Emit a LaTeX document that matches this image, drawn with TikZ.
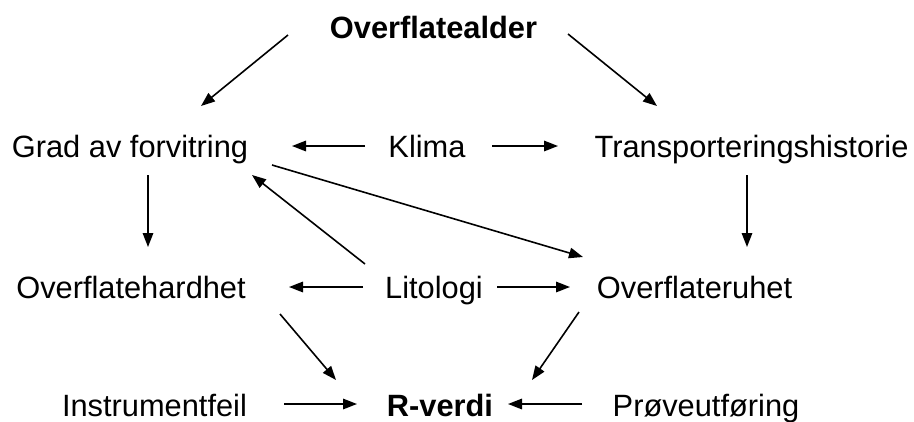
\documentclass[tikz,border=0pt]{standalone}
\usepackage{fontspec}
\setmainfont{Liberation Sans}
\usetikzlibrary{arrows.meta}
\begin{document}
\begin{tikzpicture}[x=1pt,y=-1pt,
  lbl/.style={inner sep=0pt,anchor=base,font=\fontsize{30.8}{36}\selectfont},
  blbl/.style={lbl,font=\fontsize{30.8}{36}\selectfont\bfseries},
  arr/.style={line width=1.6pt,-{Triangle[length=14pt,width=10.5pt]}}]
\useasboundingbox[fill=white] (0,0) rectangle (914,421);
\node[blbl] (ofa) at (433.5,38) {Overflatealder};
\node[lbl] (grad) at (130,157) {Grad av forvitring};
\node[lbl] (klima) at (427,157) {Klima};
\node[lbl] (trans) at (751.5,157) {Transporteringshistorie};
\node[lbl] (ohard) at (131,298) {Overflatehardhet};
\node[lbl] (lito) at (434,298) {Litologi};
\node[lbl] (oruhet) at (694.5,298) {Overflateruhet};
\node[lbl] (instr) at (154.5,416) {Instrumentfeil};
\node[blbl] (rverdi) at (440,416) {R-verdi};
\node[lbl] (prove) at (706,416) {Prøveutføring};
% connectors
\draw[arr] ([shift={(-145.5,-3)}]ofa.base) -- ([shift={(71,-51)}]grad.base);
\draw[arr] ([shift={(134.5,-4)}]ofa.base) -- ([shift={(-94.5,-51)}]trans.base);
\draw[arr] ([shift={(-62,-11)}]klima.base) -- ([shift={(162,-11)}]grad.base);
\draw[arr] ([shift={(65,-11)}]klima.base) -- ([shift={(-193.5,-11)}]trans.base);
\draw[arr] ([shift={(18,18)}]grad.base) -- ([shift={(17,-51)}]ohard.base);
\draw[arr] ([shift={(-4.5,18)}]trans.base) -- ([shift={(52.5,-51)}]oruhet.base);
\draw[arr] ([shift={(-69,-34)}]lito.base) -- ([shift={(122,18)}]grad.base);
\draw[arr] ([shift={(142,8)}]grad.base) -- ([shift={(-111.5,-41)}]oruhet.base);
\draw[arr] ([shift={(-71,-11)}]lito.base) -- ([shift={(158,-11)}]ohard.base);
\draw[arr] ([shift={(63,-11)}]lito.base) -- ([shift={(-124.5,-11)}]oruhet.base);
\draw[arr] ([shift={(149,16)}]ohard.base) -- ([shift={(-104,-36)}]rverdi.base);
\draw[arr] ([shift={(-115.5,14)}]oruhet.base) -- ([shift={(92,-36)}]rverdi.base);
\draw[arr] ([shift={(129.5,-12)}]instr.base) -- ([shift={(-83,-12)}]rverdi.base);
\draw[arr] ([shift={(-124,-12)}]prove.base) -- ([shift={(68,-12)}]rverdi.base);
\end{tikzpicture}
\end{document}
